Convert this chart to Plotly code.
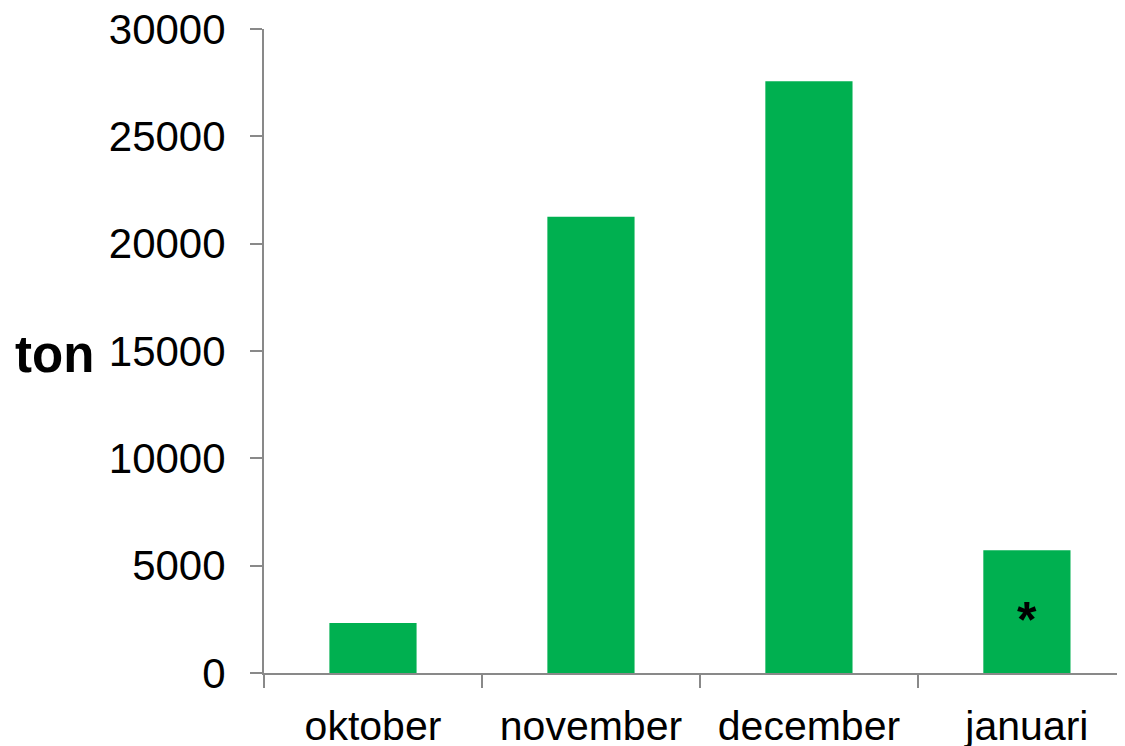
import plotly.graph_objects as go

months = ["oktober", "november", "december", "januari"]
tons = [2330, 21250, 27570, 5720]
y_ticks = [0, 5000, 10000, 15000, 20000, 25000, 30000]
note_month = "januari"
note_text = "*"

fig = go.Figure()
fig.add_trace(go.Bar(
    x=months, y=tons, width=0.4,
    marker=dict(color="#00B050", line=dict(width=0)),
))

note_val = tons[months.index(note_month)]
fig.add_annotation(
    x=note_month, y=note_val / 2, text="<b>" + note_text + "</b>", showarrow=False,
    font=dict(family="Liberation Sans, Arial", size=50, color="black"),
    yshift=-8,
)
fig.add_annotation(
    xref="paper", yref="paper", x=-0.292, y=0.495, xanchor="left", yanchor="middle",
    text="<b>ton</b>", showarrow=False,
    font=dict(family="Liberation Sans, Arial", size=51, color="black"),
)

fig.update_layout(
    width=1117, height=738,
    margin=dict(l=256, r=0, t=21, b=73, autoexpand=False),
    paper_bgcolor="white", plot_bgcolor="white",
    showlegend=False,
    font=dict(family="Liberation Sans, Arial", size=41, color="black"),
)
fig.update_xaxes(
    range=[-0.5, 3.45], showline=True, linecolor="#898989", linewidth=2,
    ticks="outside", tickson="boundaries", ticklen=13, tickwidth=2, tickcolor="#898989",
    showgrid=False, zeroline=False, ticklabelstandoff=16, automargin=False,
    ticklabeloverflow="allow",
    tickfont=dict(size=41),
)
fig.update_yaxes(
    range=[0, 30000.5], tickvals=y_ticks, ticktext=[str(v) for v in y_ticks],
    showline=True, linecolor="#898989", linewidth=2,
    ticks="outside", ticklen=12, tickwidth=2, tickcolor="#898989",
    showgrid=False, zeroline=False, ticklabelstandoff=16, automargin=False,
    ticklabeloverflow="allow",
    tickfont=dict(size=42),
)

fig.write_html("out.html")
